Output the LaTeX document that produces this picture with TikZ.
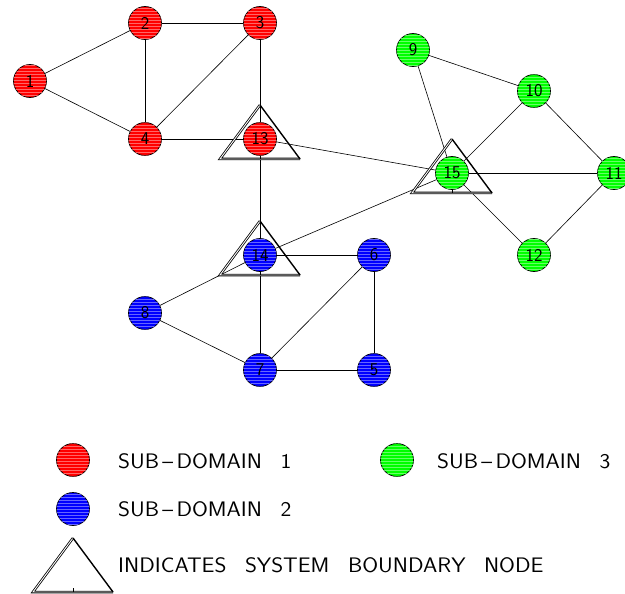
\documentclass[tikz,border=0pt]{standalone}
\usepackage{fontspec}
\usetikzlibrary{patterns}
\pgfdeclarelayer{edges}
\pgfdeclarelayer{bounds}
\pgfsetlayers{edges,bounds,main}
% plotter-style legend lettering: slightly widened sans
\newcommand\cadtext[1]{\scalebox{1.09}[1]{\sffamily\fontsize{21}{21}\selectfont #1}}
\newcommand\wgap{\hspace{17pt}}
\newcommand\ngap{\hspace{17pt}}
\newcommand\sdash{\kern3pt--\kern3pt}
\begin{document}
\begin{tikzpicture}[x=1pt,y=-1pt,
  vtx/.style={circle,draw=black,line width=0.7pt,minimum size=33pt,inner sep=0pt,
    font=\sffamily\fontsize{18}{18}\selectfont},
  hatch/.style={fill=#1,postaction={pattern=horizontal lines,pattern color=#1!60!white}},
  sd1/.style={vtx,hatch=red},
  sd2/.style={vtx,hatch=blue},
  sd3/.style={vtx,hatch=green},
  edge/.style={line width=0.6pt},
  dbl/.style={draw,double,double distance=0.9pt,line width=0.8pt,line join=miter},
  sgl/.style={draw,line width=1.4pt,line join=miter},
  bound/.pic={\draw[dbl] (40,20) -- (-40,20) -- (0,-34);
              \draw[sgl] (0,-34) -- (40,20);
              \draw[line width=0.6pt] (0,20) -- (0,16);},
  legtxt/.style={anchor=west,inner sep=0pt},
  legdot/.style={circle,draw=black,line width=0.7pt,minimum size=33pt,inner sep=0pt}
]
\useasboundingbox (0,0) rectangle (625,594);

% sub-domain 1
\node[sd1] (n1)  at (30,81)   {1};
\node[sd1] (n2)  at (145,23)  {2};
\node[sd1] (n3)  at (260,23)  {3};
\node[sd1] (n4)  at (145,139) {4};
\node[sd1] (n13) at (260,139) {13};
% sub-domain 2
\node[sd2] (n14) at (260,255) {14};
\node[sd2] (n6)  at (374,255) {6};
\node[sd2] (n8)  at (145,313) {8};
\node[sd2] (n7)  at (260,370) {7};
\node[sd2] (n5)  at (374,370) {5};
% sub-domain 3
\node[sd3] (n9)  at (413,50)  {9};
\node[sd3] (n10) at (534,91)  {10};
\node[sd3] (n15) at (452,173) {15};
\node[sd3] (n11) at (614,173) {11};
\node[sd3] (n12) at (534,255) {12};

% system boundary markers
\begin{pgfonlayer}{bounds}
  \pic at (n13) {bound};
  \pic at (n14) {bound};
  \pic at (n15) {bound};
\end{pgfonlayer}

% connectivity
\begin{pgfonlayer}{edges}
  \draw[edge] (n1) -- (n2);
  \draw[edge] (n1) -- (n4);
  \draw[edge] (n2) -- (n3);
  \draw[edge] (n2) -- (n4);
  \draw[edge] (n4) -- (n3);
  \draw[edge] (n3) -- (n13);
  \draw[edge] (n4) -- (n13);
  \draw[edge] (n13) -- (n15);
  \draw[edge] (n13) -- (n14);
  \draw[edge] (n14) -- (n15);
  \draw[edge] (n14) -- (n6);
  \draw[edge] (n14) -- (n7);
  \draw[edge] (n14) -- (n8);
  \draw[edge] (n8) -- (n7);
  \draw[edge] (n7) -- (n6);
  \draw[edge] (n7) -- (n5);
  \draw[edge] (n6) -- (n5);
  \draw[edge] (n9) -- (n15);
  \draw[edge] (n9) -- (n10);
  \draw[edge] (n10) -- (n15);
  \draw[edge] (n10) -- (n11);
  \draw[edge] (n15) -- (n11);
  \draw[edge] (n15) -- (n12);
  \draw[edge] (n12) -- (n11);
\end{pgfonlayer}

% legend
\node[legdot,hatch=red]   (k1) at (73,460)  {};
\node[legtxt] (t1) at (118,461) {\cadtext{SUB\sdash DOMAIN\ngap 1}};
\node[legdot,hatch=green] (k3) at (397,460) {};
\node[legtxt] (t3) at (437,461) {\cadtext{SUB\sdash DOMAIN\ngap 3}};
\node[legdot,hatch=blue]  (k2) at (73,509)  {};
\node[legtxt] (t2) at (118,509) {\cadtext{SUB\sdash DOMAIN\ngap 2}};
\draw[dbl] (113,592) -- (33,592) -- (73,538);
\draw[sgl] (73,538) -- (113,592);
\draw[line width=0.6pt] (73,592) -- (73,588);
\node[legtxt] (t4) at (118,565) {\cadtext{INDICATES\wgap SYSTEM\wgap BOUNDARY\wgap NODE}};
\end{tikzpicture}
\end{document}
